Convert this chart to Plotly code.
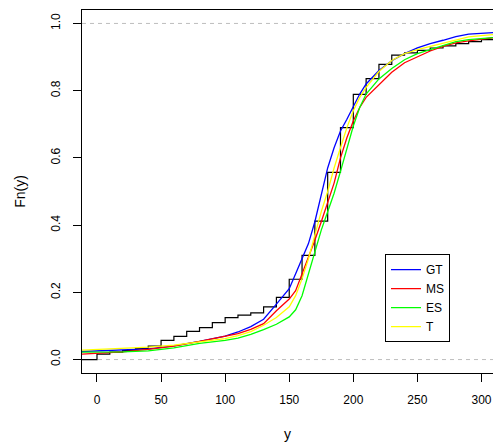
import plotly.graph_objects as go

# ECDF (black step function): jump points and levels
ecdf_x = [-12, 0, 10, 20, 30, 40, 50, 60, 70, 80, 90, 100, 110, 120, 130, 140, 150,
          160, 170, 180, 190, 200, 210, 220, 230, 240, 250, 260, 270, 280, 290, 300, 312]
ecdf_y = [0.0, 0.016, 0.022, 0.027, 0.033, 0.040, 0.057, 0.069, 0.084, 0.095, 0.110,
          0.125, 0.132, 0.139, 0.157, 0.185, 0.239, 0.310, 0.412, 0.557, 0.690, 0.789,
          0.836, 0.878, 0.906, 0.9125, 0.920, 0.927, 0.933, 0.940, 0.946, 0.952, 0.952]

# Smooth CDF curves
curve_x = [-12, 0, 20, 40, 60, 80, 100, 110, 120, 130, 140, 150, 155, 160, 165, 170,
           175, 180, 185, 190, 195, 200, 205, 210, 220, 230, 240, 250, 260, 270, 280,
           290, 300, 310]
gt = [0.024, 0.026, 0.028, 0.032, 0.041, 0.054, 0.070, 0.082, 0.098, 0.120, 0.165,
      0.211, 0.255, 0.300, 0.345, 0.410, 0.490, 0.570, 0.630, 0.680, 0.715, 0.755,
      0.790, 0.820, 0.860, 0.889, 0.910, 0.927, 0.940, 0.950, 0.961, 0.968, 0.971, 0.973]
ms = [0.016, 0.018, 0.023, 0.030, 0.040, 0.054, 0.069, 0.077, 0.090, 0.107, 0.145,
      0.180, 0.205, 0.255, 0.300, 0.355, 0.410, 0.470, 0.525, 0.600, 0.660, 0.710,
      0.750, 0.780, 0.818, 0.855, 0.883, 0.900, 0.918, 0.932, 0.942, 0.948, 0.953, 0.958]
es = [0.022, 0.022, 0.023, 0.026, 0.035, 0.048, 0.057, 0.064, 0.075, 0.089, 0.105,
      0.127, 0.148, 0.190, 0.255, 0.315, 0.385, 0.440, 0.495, 0.560, 0.630, 0.695,
      0.750, 0.790, 0.835, 0.866, 0.892, 0.910, 0.922, 0.933, 0.946, 0.952, 0.955, 0.958]
tt = [0.028, 0.030, 0.033, 0.037, 0.043, 0.052, 0.062, 0.071, 0.083, 0.102, 0.125,
      0.157, 0.190, 0.240, 0.300, 0.370, 0.440, 0.500, 0.570, 0.630, 0.690, 0.740,
      0.780, 0.810, 0.857, 0.890, 0.910, 0.922, 0.932, 0.942, 0.952, 0.960, 0.964, 0.967]

names = ["GT", "MS", "ES", "T"]
colors = ["#0000FF", "#FF0000", "#00FF00", "#FFFF00"]
series = [gt, ms, es, tt]

x_ticks = [0, 50, 100, 150, 200, 250, 300]
y_ticks = [0.0, 0.2, 0.4, 0.6, 0.8, 1.0]
y_ticktext = ["0.0", "0.2", "0.4", "0.6", "0.8", "1.0"]

fig = go.Figure()

# reference lines at 0 and 1
for h in [0, 1]:
    fig.add_hline(y=h, line=dict(color="#BEBEBE", width=1, dash="4px,4px"), layer="below")

fig.add_trace(go.Scatter(x=ecdf_x, y=ecdf_y, mode="lines", line_shape="hv",
                         line=dict(color="black", width=1.2), showlegend=False,
                         hoverinfo="skip"))
for n, c, s in zip(names, colors, series):
    fig.add_trace(go.Scatter(x=curve_x, y=s, mode="lines", name=n,
                             line=dict(color=c, width=1.3)))

font = "Liberation Sans, Arial, Helvetica, sans-serif"
fig.update_layout(
    width=493, height=445,
    margin=dict(l=82, r=0, t=10, b=72, autoexpand=False),
    paper_bgcolor="white", plot_bgcolor="white",
    font=dict(family=font, size=12, color="black"),
    showlegend=True,
    legend=dict(x=(385 - 82) / 411, y=(372.7 - 254) / 362.7, xanchor="left", yanchor="top",
                bordercolor="black", borderwidth=1, bgcolor="white",
                font=dict(size=12), itemwidth=30, tracegroupgap=0),
    xaxis=dict(range=[-11.7, 309], tickvals=x_ticks, showgrid=False, zeroline=False,
               showline=True, linecolor="black", linewidth=1, mirror=True,
               ticks="outside", ticklen=8, tickcolor="black", ticklabelstandoff=8,
               title=dict(text="y", standoff=22), automargin=False),
    yaxis=dict(range=[-0.04, 1.04], tickvals=y_ticks, ticktext=y_ticktext, showgrid=False,
               zeroline=False, showline=True, linecolor="black", linewidth=1,
               ticks="outside", ticklen=8, tickcolor="black", tickangle=-90,
               ticklabelstandoff=8, title=dict(text="Fn(y)", standoff=20), automargin=False),
)

fig.write_html("out.html")
